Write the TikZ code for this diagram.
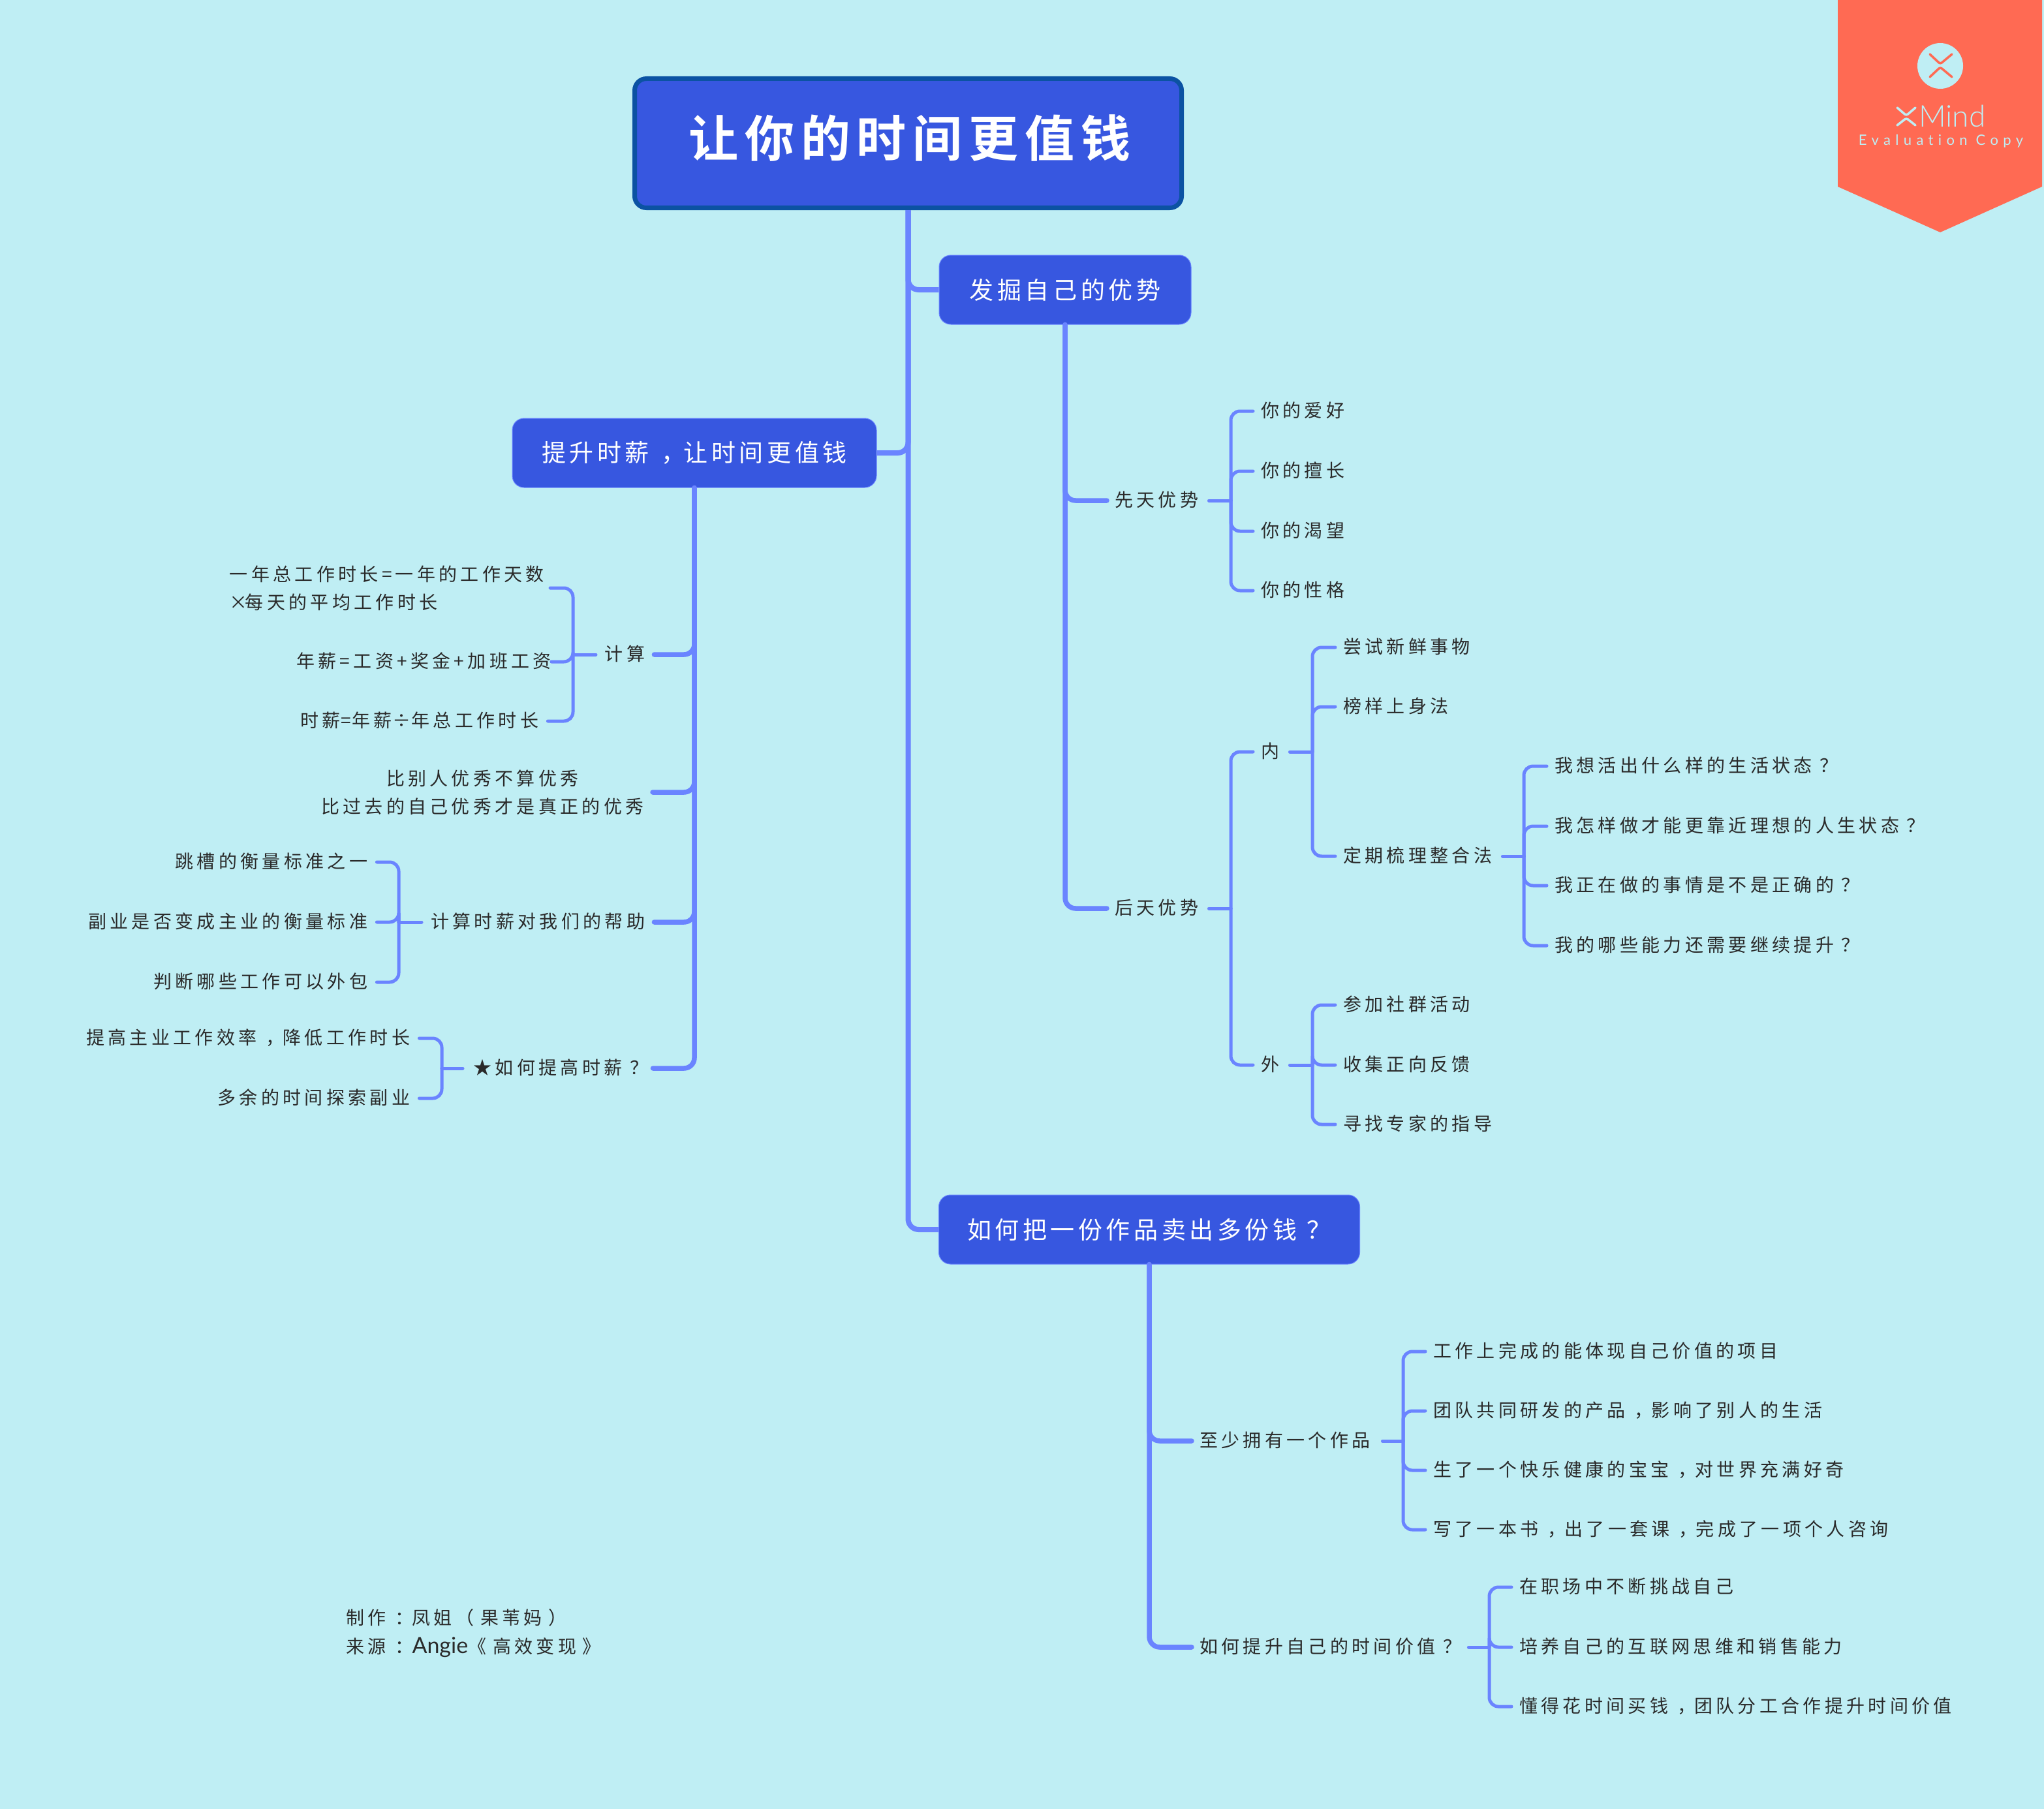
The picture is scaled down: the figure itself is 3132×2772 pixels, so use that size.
\documentclass[tikz,border=0pt]{standalone}
\usepackage{fontspec}
\setmainfont{Noto Sans CJK SC}[LetterSpace=19]
\newfontfamily\cjkone{Noto Sans CJK SC}[LetterSpace=15]
\newfontfamily\cjkroot{Noto Sans CJK SC}[LetterSpace=13,BoldFont={* Bold}]
\newfontfamily\latinplain{Lato}
\newfontfamily\latinthin{Lato Light}
\newfontfamily\latinlogo{Lato}[LetterSpace=33.5,Ligatures=NoCommon]
\definecolor{bgc}{HTML}{BFEEF4}
\definecolor{nodeblue}{HTML}{3757E0}
\definecolor{linec}{HTML}{6A84FF}
\definecolor{rootedge}{HTML}{0B52A3}
\definecolor{banner}{HTML}{FF6A53}
\definecolor{inkc}{HTML}{2A2A2A}
\tikzset{
  rootbox/.style={draw=rootedge,line width=7pt,fill=nodeblue,rounded corners=18pt,text=white,inner sep=0pt},
  mainbox/.style={draw=linec,line width=1pt,fill=nodeblue,rounded corners=18pt,text=white,inner sep=0pt,font=\fontsize{37}{44}\selectfont\cjkone},
  lf/.style={inner xsep=14pt,inner ysep=0pt,text=inkc,text height=23.5pt,text depth=4.5pt,font=\fontsize{28}{43}\selectfont},
  lftwo/.style={inner xsep=12pt,inner ysep=0pt,text=inkc,align=left,font=\fontsize{28}{43}\selectfont},
  trunk/.style={draw=linec,line width=8pt,rounded corners=16pt},
  branch/.style={draw=linec,line width=7.5pt,rounded corners=16pt,line cap=round},
  brack/.style={draw=linec,line width=5pt,rounded corners=14pt,line cap=round},
  logo/.style={draw=bgc,line width=3.5pt,line cap=round,line join=round,rounded corners=3pt},
}
\def\offl{-2pt}\def\offr{0pt}\def\offc{0pt}
\newcommand\lfnode[6][l]{\node[lf,anchor=west] (#2) at ({#3-14},#5) {\makebox[\dimexpr#4pt-#3pt\relax][#1]{\hspace{\csname off#1\endcsname}#6}};}
\newcommand\qmk{\kern.42em？}
\newcommand\cmk{\kern.5em，\kern-.07em}
\newcommand\clk{\kern.5em：\kern-.07em}
\newcommand\lpk{（\kern.35em}
\newcommand\rpk{\kern.35em）}
\newcommand\lbk{《\kern.35em}
\newcommand\rbk{\kern.35em》}
\begin{document}
\begin{tikzpicture}[x=1pt,y=-1pt]
\fill[bgc] (0,0) rectangle (3132,2772);
\useasboundingbox (0,0) rectangle (3132,2772);
% banner
\fill[banner] (2816,0) -- (3129,0) -- (3129,286) -- (2973,356) -- (2816,286) -- cycle;
\node[circle,fill=bgc,minimum size=70pt,inner sep=0pt] (logoc) at (2973,101) {};
\draw[draw=banner,line width=3.5pt,line cap=round,rounded corners=3pt] (2957,83) -- (2973,98) -- (2991,83);
\draw[draw=banner,line width=3.5pt,line cap=round,rounded corners=3pt] (2957,118) -- (2973,103) -- (2991,118);
\draw[logo] (2907,165) -- (2921,177) -- (2935,165);
\draw[logo] (2907,192) -- (2921,181) -- (2935,192);
\node[inner sep=0pt,text=bgc,anchor=west] (mindtxt) at (2940,178) {\fontsize{46}{46}\selectfont\latinthin Mind};
\node[inner sep=0pt,text=bgc] (evaltxt) at (2974,216) {\fontsize{22}{22}\selectfont\latinlogo Evaluation Copy};
% main nodes
\node[rootbox,minimum width=838pt,minimum height=198pt] (root) at (1391.5,219.5) {};
\node[inner sep=0pt,text=white] (roottxt) at (1394,212) {\fontsize{76}{80}\selectfont\cjkroot\bfseries 让你的时间更值钱};
\node[mainbox,minimum width=386pt,minimum height=106pt] (n1) at (1632,444) {发掘自己的优势};
\node[mainbox,minimum width=558pt,minimum height=106pt] (n2) at (1064,694) {提升时薪\cmk 让时间更值钱};
\node[mainbox,minimum width=645pt,minimum height=106pt] (n3) at (1761,1884) {如何把一份作品卖出多份钱\qmk};
% right branch 1
\lfnode{xt}{1710}{1838}{767}{先天优势}
\lfnode{ht}{1710}{1838}{1392}{后天优势}
\lfnode{xa}{1934}{2066}{630}{你的爱好}
\lfnode{xb}{1934}{2066}{722}{你的擅长}
\lfnode{xc}{1934}{2066}{814}{你的渴望}
\lfnode{xd}{1934}{2066}{905}{你的性格}
\lfnode{nei}{1934}{1962}{1152}{内}
\lfnode{wai}{1934}{1962}{1632}{外}
\lfnode{na}{2060}{2258}{992}{尝试新鲜事物}
\lfnode{nb}{2060}{2222}{1083}{榜样上身法}
\lfnode{nc}{2060}{2288}{1312}{定期梳理整合法}
\lfnode{pa}{2384}{2790}{1174}{我想活出什么样的生活状态\qmk}
\lfnode{pb}{2384}{2940}{1266}{我怎样做才能更靠近理想的人生状态\qmk}
\lfnode{pc}{2384}{2840}{1357}{我正在做的事情是不是正确的\qmk}
\lfnode{pd}{2384}{2840}{1449}{我的哪些能力还需要继续提升\qmk}
\lfnode{wa}{2060}{2258}{1540}{参加社群活动}
\lfnode{wb}{2060}{2258}{1632}{收集正向反馈}
\lfnode{wc}{2060}{2288}{1723}{寻找专家的指导}
% left branch
\lfnode[r]{js}{927}{988}{1003}{计算}
\node[lftwo,anchor=east,inner xsep=8pt] (aa) at (843,901) {\makebox[483pt][l]{一年总工作时长=一年的工作天数}\\\makebox[483pt][l]{×\kern-4pt 每天的平均工作时长}};
\node[lf,anchor=east,inner xsep=0pt] (ab) at (845,1014) {\makebox[386pt][r]{年薪=工资+奖金+加班工资}};
\lfnode[r]{ac}{462}{825}{1105}{时薪\kern1pt=\kern1pt 年薪\kern1pt÷\kern1pt 年总工作时长}
\node[lftwo,anchor=east] (bj) at (1000,1214) {\makebox[497pt][c]{比别人优秀不算优秀}\\\makebox[497pt][c]{比过去的自己优秀才是真正的优秀}};
\lfnode[r]{hp}{660}{988}{1413}{计算时薪对我们的帮助}
\lfnode[r]{ca}{266}{563}{1321}{跳槽的衡量标准之一}
\lfnode[r]{cb}{134}{563}{1413}{副业是否变成主业的衡量标准}
\lfnode[r]{cc}{233}{563}{1505}{判断哪些工作可以外包}
\lfnode[r]{rs}{723}{986}{1637}{★如何提高时薪\qmk\kern-7pt}
\lfnode[r]{da}{133}{628}{1591}{提高主业工作效率\cmk 降低工作时长}
\lfnode[r]{db}{336}{628}{1683}{多余的时间探索副业}
% bottom branch
\lfnode{zs}{1840}{2104}{2208}{至少拥有一个作品}
\lfnode{rt}{1840}{2236}{2524}{如何提升自己的时间价值\qmk}
\lfnode{za}{2198}{2724}{2071}{工作上完成的能体现自己价值的项目}
\lfnode{zb}{2198}{2795}{2162}{团队共同研发的产品\cmk 影响了别人的生活}
\lfnode{zc}{2198}{2795}{2253}{生了一个快乐健康的宝宝\cmk 对世界充满好奇}
\lfnode{zd}{2198}{2895}{2344}{写了一本书\cmk 出了一套课\cmk 完成了一项个人咨询}
\lfnode{ra}{2330}{2660}{2432}{在职场中不断挑战自己}
\lfnode{rb}{2330}{2828}{2524}{培养自己的互联网思维和销售能力}
\lfnode{rc}{2330}{2995}{2615}{懂得花时间买钱\cmk 团队分工合作提升时间价值}
% footer
\lfnode{fa}{532}{860}{2480}{制作\clk 凤姐\lpk 果苇妈\rpk}
\lfnode{fb}{532}{910}{2524}{来源\clk{\fontsize{34}{43}\selectfont\latinplain Angie}\lbk 高效变现\rbk}
% bracket joints
\coordinate (bxt) at (1886,767);
\coordinate (bht) at (1886,1392);
\coordinate (bnei) at (2011,1152);
\coordinate (bwai) at (2011,1632);
\coordinate (bnc) at (2335,1312);
\coordinate (bzs) at (2150,2208);
\coordinate (brt) at (2282,2524);
\coordinate (bjs) at (878,1003);
\coordinate (bhp) at (611,1413);
\coordinate (brs) at (677,1637);
% connectors
\draw[trunk] (root.south) |- (n1.west);
\draw[trunk] (root.south) |- (n2.east);
\draw[trunk] (root.south) |- (n3.west);
\draw[branch] (n1.south) |- (xt.west);
\draw[branch] (n1.south) |- (ht.west);
\draw[branch] (n2.south) |- (js.east);
\draw[branch] (n2.south) |- (bj.east);
\draw[branch] (n2.south) |- (hp.east);
\draw[branch] (n2.south) |- (rs.east);
\draw[branch] (n3.south) |- (zs.west);
\draw[branch] (n3.south) |- (rt.west);
\foreach \p/\j in {xt/bxt,ht/bht,nei/bnei,wai/bwai,nc/bnc,zs/bzs,rt/brt}{\draw[brack] (\p.east) -- (\j);}
\foreach \j/\c in {bxt/xa,bxt/xb,bxt/xc,bxt/xd,bht/nei,bht/wai,bnei/na,bnei/nb,bnei/nc,bnc/pa,bnc/pb,bnc/pc,bnc/pd,bwai/wa,bwai/wb,bwai/wc,bzs/za,bzs/zb,bzs/zc,bzs/zd,brt/ra,brt/rb,brt/rc}{\draw[brack] (\j) |- (\c.west);}
\draw[brack] (js.west) -- (bjs);
\draw[brack] (hp.west) -- (bhp);
\draw[brack] (rs.west) -- (brs);
\foreach \j/\c in {bjs/aa,bjs/ab,bjs/ac,bhp/ca,bhp/cb,bhp/cc,brs/da,brs/db}{\draw[brack] (\j) |- (\c.east);}
\end{tikzpicture}
\end{document}
